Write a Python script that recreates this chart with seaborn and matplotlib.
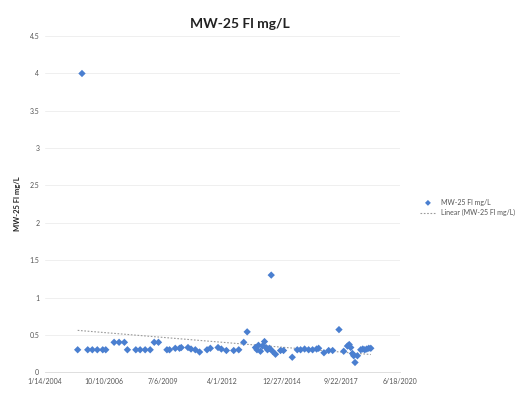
import matplotlib
matplotlib.use("Agg")
import matplotlib.pyplot as plt
import matplotlib.dates as mdates
from matplotlib.ticker import FuncFormatter
import seaborn as sns
import numpy as np
import pandas as pd

sns.set_style("white")
plt.rcParams['font.family'] = ['Lato', 'DejaVu Sans']

# sample dates and fluoride results
dates = [
    '2005-07-21', '2005-10-02', '2006-01-07', '2006-03-26', '2006-06-18', '2006-09-18',
    '2006-11-08', '2007-03-29', '2007-06-21', '2007-09-19', '2007-11-09', '2008-03-30',
    '2008-06-11', '2008-09-04', '2008-11-28', '2009-02-04', '2009-04-17', '2009-09-07',
    '2009-10-21', '2010-01-26', '2010-04-08', '2010-05-07', '2010-08-29', '2010-10-19',
    '2010-12-31', '2011-03-13', '2011-07-17', '2011-09-11', '2012-01-19', '2012-03-15',
    '2012-06-08', '2012-10-10', '2013-01-03', '2013-03-28', '2013-05-25', '2013-10-12',
    '2013-11-07', '2013-12-02', '2014-01-05', '2014-02-08', '2014-03-14', '2014-04-08',
    '2014-05-04', '2014-06-07', '2014-07-06', '2014-07-28', '2014-09-16', '2014-12-10',
    '2015-01-30', '2015-06-26', '2015-09-19', '2015-11-14', '2016-01-21', '2016-03-29',
    '2016-06-04', '2016-08-11', '2016-09-14', '2016-12-13', '2017-03-03', '2017-05-09',
    '2017-08-24', '2017-11-12', '2018-01-14', '2018-02-13', '2018-03-11', '2018-04-09',
    '2018-04-30', '2018-05-22', '2018-07-02', '2018-08-27', '2018-09-30', '2018-11-03',
    '2018-12-07', '2019-01-10', '2019-02-13',
]
fl_mgl = [
    0.30, 4.00, 0.30, 0.30, 0.30, 0.30,
    0.30, 0.40, 0.40, 0.40, 0.30, 0.30,
    0.30, 0.30, 0.30, 0.40, 0.40, 0.30,
    0.30, 0.32, 0.32, 0.33, 0.33, 0.31,
    0.30, 0.27, 0.30, 0.32, 0.33, 0.31,
    0.29, 0.29, 0.30, 0.40, 0.54, 0.33,
    0.30, 0.36, 0.28, 0.35, 0.41, 0.33,
    0.30, 0.32, 1.30, 0.28, 0.24, 0.29,
    0.29, 0.20, 0.30, 0.30, 0.31, 0.30,
    0.30, 0.31, 0.32, 0.26, 0.29, 0.29,
    0.57, 0.28, 0.35, 0.37, 0.33, 0.25,
    0.22, 0.13, 0.22, 0.30, 0.31, 0.30,
    0.31, 0.32, 0.32,
]

x_start = '2004-01-14'
x_end = '2020-06-18'
series_name = 'MW-25 Fl mg/L'
trend_name = 'Linear (MW-25 Fl mg/L)'

df = pd.DataFrame({'date': pd.to_datetime(dates), 'fl': fl_mgl})
df['x'] = mdates.date2num(df['date'])

fig = plt.figure(figsize=(5.22, 3.93), dpi=100)
ax = fig.add_axes([0.086, 0.053, 0.68, 0.855])

sns.scatterplot(data=df, x='x', y='fl', marker='D', s=14, color='#4a7fd0',
                edgecolor='none', ax=ax, label=series_name, zorder=3)
sns.regplot(data=df, x='x', y='fl', scatter=False, ci=None, ax=ax,
            line_kws=dict(color='#9a9a9a', lw=0.8, ls=(0, (1.5, 1.5))),
            label=trend_name)

x0 = mdates.date2num(pd.Timestamp(x_start))
x1 = mdates.date2num(pd.Timestamp(x_end))
ax.set_xlim(x0, x1)
ax.set_xticks(np.arange(x0, x1 + 1, 1000))
ax.xaxis.set_major_formatter(FuncFormatter(
    lambda v, p: (lambda d: f"{d.month}/{d.day}/{d.year}")(mdates.num2date(v))))
ax.set_ylim(0, 4.5)
ax.set_yticks(np.arange(0, 4.51, 0.5))
ax.set_yticklabels(['0', '0.5', '1', '1.5', '2', '2.5', '3', '3.5', '4', '4.5'])

ax.grid(axis='y', color='#ececec', lw=0.6)
for s in ['top', 'right', 'left']:
    ax.spines[s].set_visible(False)
ax.spines['bottom'].set_color('#d9d9d9')
ax.spines['bottom'].set_linewidth(0.6)
ax.tick_params(axis='both', labelsize=5, colors='#555555', length=0, pad=4)
ax.set_xlabel('')
ax.set_ylabel(series_name, fontsize=5.5, color='#222222', fontweight='bold', labelpad=6)

fig.suptitle(series_name, x=0.46, y=0.955, fontsize=10, fontweight='bold', color='#222222')

ax.legend(loc='center left', bbox_to_anchor=(1.04, 0.49), frameon=False,
          fontsize=5, labelcolor='#555555', handlelength=2.2, markerscale=0.8)

fig.savefig('out.png', dpi=100)
